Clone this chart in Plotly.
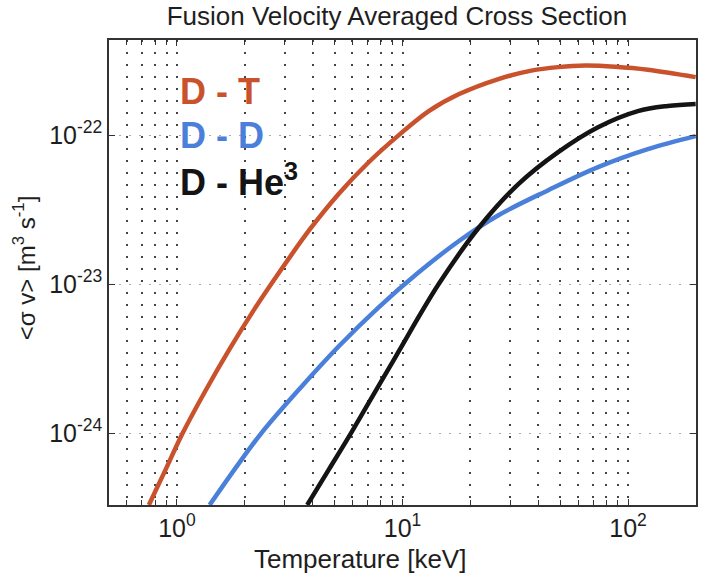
import math
import plotly.graph_objects as go

# ---- data (T in keV, <sigma v> in m^3/s) ----
T_dt = [0.751, 0.893, 1.061, 1.327, 1.711, 2.206, 2.844, 3.858, 5.233, 7.10, 9.63, 13.07, 17.73, 26.62, 37.24, 48.98, 64.5, 87.5, 122.4, 199.3]
sv_dt = [3.29e-25, 5.73e-25, 1.00e-24, 1.88e-24, 3.66e-24, 6.79e-24, 1.20e-23, 2.30e-23, 4.06e-23, 6.60e-23, 1.00e-22, 1.45e-22, 1.88e-22, 2.38e-22, 2.71e-22, 2.86e-22, 2.93e-22, 2.88e-22, 2.75e-22, 2.45e-22]

T_dd = [1.396, 1.818, 2.369, 3.485, 5.233, 7.86, 11.80, 17.73, 26.62, 44.26, 73.6, 122.4, 199.3]
sv_dd = [3.29e-25, 5.82e-25, 1.00e-24, 1.97e-24, 3.84e-24, 7.01e-24, 1.20e-23, 1.94e-23, 2.90e-23, 4.27e-23, 6.10e-23, 8.05e-23, 9.85e-23]

T_dhe = [3.781, 4.727, 5.913, 9.25, 14.47, 21.73, 32.63, 48.98, 73.6, 110.5, 149.9, 199.3]
sv_dhe = [3.29e-25, 5.73e-25, 1.00e-24, 3.19e-24, 1.00e-23, 2.38e-23, 4.69e-23, 7.69e-23, 1.13e-22, 1.45e-22, 1.57e-22, 1.62e-22]

x_range = [0.5, 200]
y_range = [3.29e-25, 4.35e-22]
x_major = [1, 10, 100]
x_major_text = ["10<sup>0</sup>", "10<sup>1</sup>", "10<sup>2</sup>"]
x_minor = [0.6, 0.7, 0.8, 0.9, 2, 3, 4, 5, 6, 7, 8, 9, 20, 30, 40, 50, 60, 70, 80, 90]
y_major = [1e-24, 1e-23, 1e-22]
y_major_text = ["10<sup>-24</sup>", "10<sup>-23</sup>", "10<sup>-22</sup>"]

labels = ["D - T", "D - D", "D - He<sup>3</sup>"]
colors = ["#C9522D", "#4B80DA", "#141414"]

FONT = "Liberation Sans, Arial, Helvetica, sans-serif"
TXT = "#1e1e1e"

fig = go.Figure()
for T, sv, c in [(T_dt, sv_dt, colors[0]), (T_dd, sv_dd, colors[1]), (T_dhe, sv_dhe, colors[2])]:
    fig.add_trace(go.Scatter(x=T, y=sv, mode="lines",
                             line=dict(color=c, width=4.5, shape="spline", smoothing=1.0),
                             showlegend=False, hoverinfo="skip"))

ypos = [0.889, 0.795, 0.700]
for lab, c, yp in zip(labels, colors, ypos):
    fig.add_annotation(text="<b>" + lab + "</b>", x=0.118, y=yp, xref="paper", yref="paper",
                       xanchor="left", yanchor="middle", showarrow=False,
                       font=dict(family=FONT, size=36, color=c))

# axis titles as annotations (placed as in the reference)
fig.add_annotation(text="Temperature [keV]", x=0.428, y=-0.117, xref="paper", yref="paper",
                   xanchor="center", yanchor="middle", showarrow=False,
                   font=dict(family=FONT, size=26, color=TXT))
fig.add_annotation(text="&lt;σ v&gt; [m<sup>3</sup> s<sup>-1</sup>]", x=-0.1443, y=0.51,
                   xref="paper", yref="paper", textangle=-90,
                   xanchor="center", yanchor="middle", showarrow=False,
                   font=dict(family=FONT, size=24, color=TXT))

fig.update_layout(
    width=702, height=577,
    margin=dict(l=109, r=4, t=40, b=72),
    paper_bgcolor="white", plot_bgcolor="white",
    title=dict(text="Fusion Velocity Averaged Cross Section", x=0.5655, xanchor="center",
               y=0.973, yanchor="middle", font=dict(family=FONT, size=26, color=TXT)),
    font=dict(family=FONT, color=TXT),
)

fig.update_xaxes(
    type="log", range=[math.log10(x_range[0]), math.log10(x_range[1])],
    tickvals=x_major, ticktext=x_major_text, ticks="inside", ticklen=6, tickcolor="#333",
    tickfont=dict(family=FONT, size=25, color=TXT),
    showline=True, linecolor="#333", linewidth=1.5, mirror="ticks",
    showgrid=True, gridcolor="#444", gridwidth=1.5, griddash="1.5px,10.5px",
    zeroline=False,
    minor=dict(tickvals=x_minor, ticks="inside", ticklen=5, tickcolor="#333",
               showgrid=True, gridcolor="#444", gridwidth=1.5, griddash="1.5px,10.5px"),
)
fig.update_yaxes(
    type="log", range=[math.log10(y_range[0]), math.log10(y_range[1])],
    tickvals=y_major, ticktext=y_major_text, ticks="inside", ticklen=6, tickcolor="#333",
    tickfont=dict(family=FONT, size=25, color=TXT),
    showline=True, linecolor="#333", linewidth=1.5, mirror="ticks",
    showgrid=True, gridcolor="#aaa", gridwidth=1, griddash="2px,8px",
    zeroline=False,
)

fig.write_html("out.html")
